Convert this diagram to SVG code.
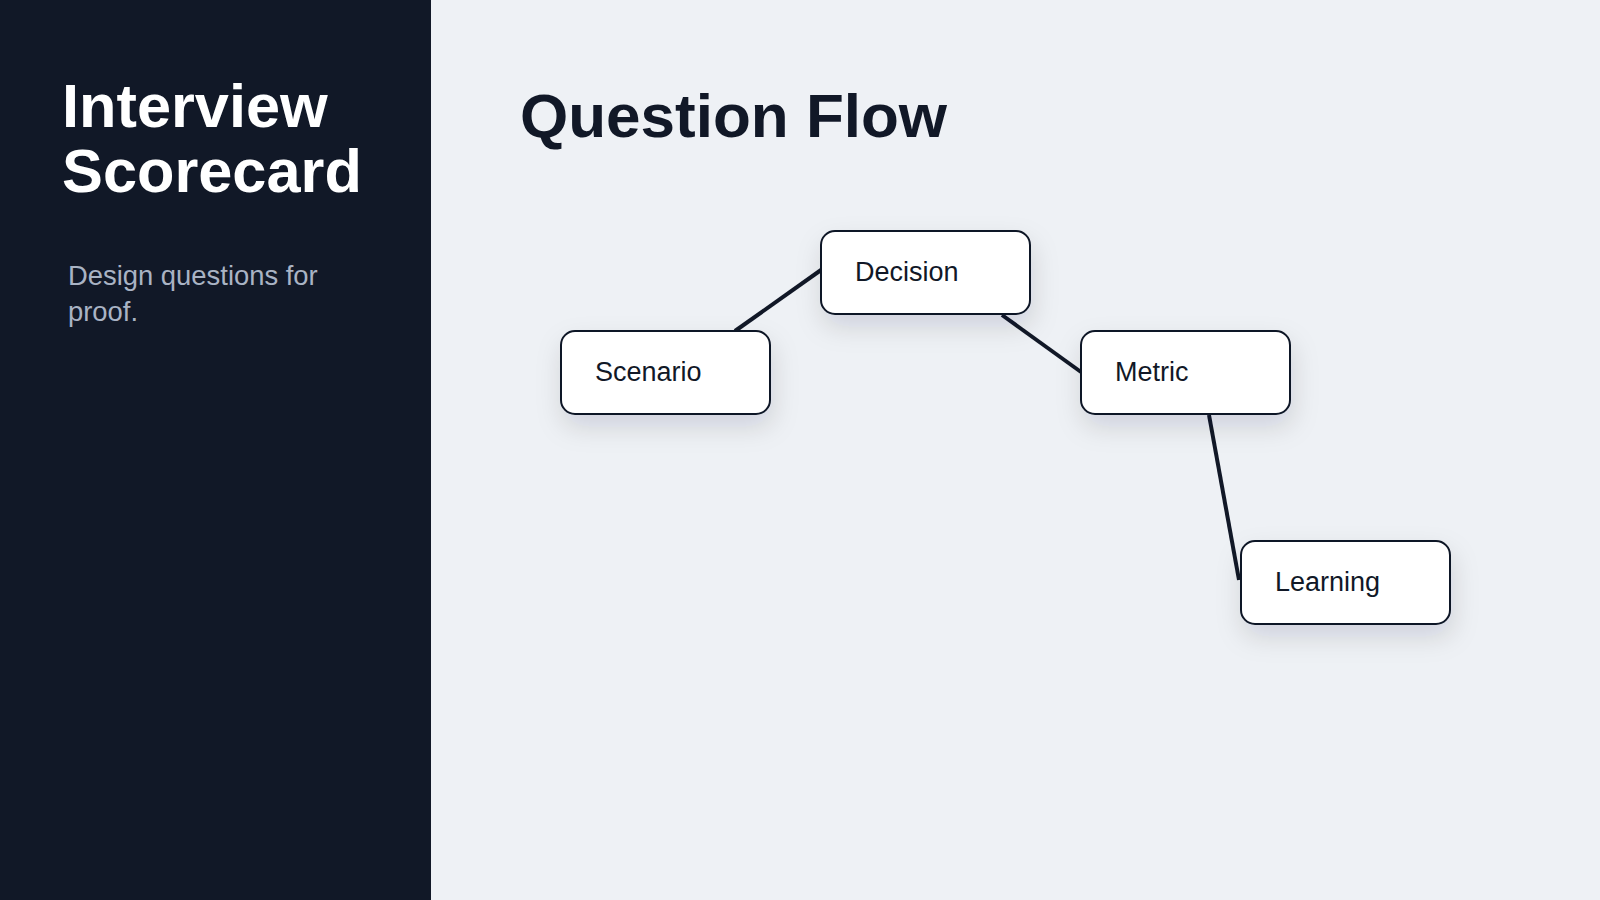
<svg xmlns="http://www.w3.org/2000/svg" width="1600" height="900" viewBox="0 0 1600 900">
  <defs>
    <filter id="shadow" x="-40%" y="-50%" width="180%" height="220%">
      <feDropShadow dx="2" dy="12" stdDeviation="13" flood-color="#0f172a" flood-opacity="0.13"/>
    </filter>
    <style>
      .bg { fill: #eef1f5; }
      .side { fill: #111827; }
      .title { font-family: "Liberation Sans", Arial, sans-serif; font-weight: 700; font-size: 62px; }
      .side-title { font-size: 61.3px; }
      .sub { font-family: "Liberation Sans", Arial, sans-serif; font-size: 27.4px; fill: #a9b3c4; }
      .box { fill: #ffffff; stroke: #111827; stroke-width: 2; filter: url(#shadow); }
      .label { font-family: "Liberation Sans", Arial, sans-serif; font-size: 27px; fill: #111827; }
      .edge { stroke: #111827; stroke-width: 4; fill: none; stroke-linecap: butt; }
    </style>
  </defs>
  <rect class="bg" x="0" y="0" width="1600" height="900"/>
  <rect class="side" x="0" y="0" width="431" height="900"/>
  <g id="sidebar">
    <text class="title side-title" x="62" y="127" fill="#ffffff">Interview</text>
    <text class="title side-title" x="62" y="192" fill="#ffffff">Scorecard</text>
    <text class="sub" x="68" y="285">Design questions for</text>
    <text class="sub" x="68" y="321">proof.</text>
  </g>
  <text id="heading" class="title" x="520" y="137" fill="#111827">Question Flow</text>
  <g id="connectors">
    <line class="edge" x1="735" y1="331" x2="821" y2="270"/>
    <line class="edge" x1="1002" y1="315" x2="1081" y2="372"/>
    <line class="edge" x1="1209" y1="415" x2="1239" y2="580"/>
  </g>
  <g id="node-scenario">
    <rect class="box" x="561" y="331" width="209" height="83" rx="14"/>
    <text class="label" x="595" y="381">Scenario</text>
  </g>
  <g id="node-decision">
    <rect class="box" x="821" y="231" width="209" height="83" rx="14"/>
    <text class="label" x="855" y="281">Decision</text>
  </g>
  <g id="node-metric">
    <rect class="box" x="1081" y="331" width="209" height="83" rx="14"/>
    <text class="label" x="1115" y="381">Metric</text>
  </g>
  <g id="node-learning">
    <rect class="box" x="1241" y="541" width="209" height="83" rx="14"/>
    <text class="label" x="1275" y="591">Learning</text>
  </g>
</svg>
